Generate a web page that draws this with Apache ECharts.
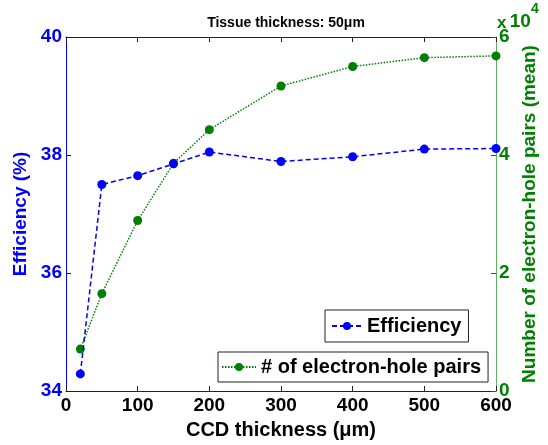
<!DOCTYPE html>
<html>
<head>
<meta charset="utf-8">
<script src="https://cdn.jsdelivr.net/npm/echarts@6/dist/echarts.min.js"></script>
<style>html,body{margin:0;padding:0;background:#fff;}#c{width:548px;height:445px;}</style>
</head>
<body>
<div id="c"></div>
<script>
var thickness = [20, 50, 100, 150, 200, 300, 400, 500, 600];
var efficiency = [34.29, 37.50, 37.65, 37.85, 38.05, 37.89, 37.97, 38.10, 38.11];
var pairs = [7100, 16500, 28900, 38600, 44300, 51700, 55000, 56500, 56800];
var xTicks = [0, 100, 200, 300, 400, 500, 600];
var leftTicks = [34, 36, 38, 40];
var rightTicks = [0, 2, 4, 6];

var FONT = '"Liberation Sans", Arial, sans-serif';
var BLUE = '#0000ff', GREEN = '#008000';

var chart = echarts.init(document.getElementById('c'), null, {renderer: 'canvas'});
chart.setOption({
  animation: false,
  backgroundColor: '#fff',
  title: {
    text: 'Tissue thickness: 50\u03bcm',
    left: 281, top: 11, textAlign: 'center',
    textStyle: {fontFamily: FONT, fontWeight: 'bold', fontSize: 14, color: '#000'}
  },
  grid: {left: 66, right: 52, top: 37, bottom: 49, show: false},
  legend: [
    {
      data: ['Efficiency'], left: 325, top: 310,
      padding: [6, 7, 6, 6], itemWidth: 30, itemHeight: 10, itemGap: 5,
      backgroundColor: '#fff', borderColor: '#222', borderWidth: 1,
      textStyle: {fontFamily: FONT, fontWeight: 'bold', fontSize: 20, color: '#000'}
    },
    {
      data: ['# of electron-hole pairs'], left: 218, top: 352,
      padding: [5, 7, 5, 3], itemWidth: 34, itemHeight: 10, itemGap: 5,
      backgroundColor: '#fff', borderColor: '#222', borderWidth: 1,
      textStyle: {fontFamily: FONT, fontWeight: 'bold', fontSize: 20, color: '#000'}
    }
  ],
  xAxis: [
    {
      type: 'value', min: 0, max: 600, interval: 100, position: 'bottom',
      name: 'CCD thickness (\u03bcm)', nameLocation: 'middle', nameGap: 29,
      nameTextStyle: {fontFamily: FONT, fontWeight: 'bold', fontSize: 20, color: '#000'},
      axisLine: {show: true, onZero: false, lineStyle: {color: '#222', width: 1}},
      axisTick: {show: true, inside: true, length: 5, lineStyle: {color: '#222'}},
      axisLabel: {fontFamily: FONT, fontWeight: 'bold', fontSize: 19, color: '#000', margin: 5,
        formatter: function (v) { return xTicks.indexOf(v) >= 0 ? String(v) : ''; }},
      splitLine: {show: false}
    },
    {
      type: 'value', min: 0, max: 600, interval: 100, position: 'top',
      axisLine: {show: true, onZero: false, lineStyle: {color: '#222', width: 1}},
      axisTick: {show: true, inside: true, length: 5, lineStyle: {color: '#222'}},
      axisLabel: {show: false}, splitLine: {show: false}
    }
  ],
  yAxis: [
    {
      type: 'value', min: 34, max: 40, interval: 2, position: 'left',
      name: 'Efficiency (%)', nameLocation: 'middle', nameGap: 30,
      nameTextStyle: {fontFamily: FONT, fontWeight: 'bold', fontSize: 19, color: BLUE},
      axisLine: {show: true, onZero: false, lineStyle: {color: BLUE, width: 1}},
      axisTick: {show: true, inside: true, length: 5, lineStyle: {color: BLUE}},
      axisLabel: {fontFamily: FONT, fontWeight: 'bold', fontSize: 19, color: BLUE, margin: 4,
        formatter: function (v) { return leftTicks.indexOf(v) >= 0 ? String(v) : ''; }},
      splitLine: {show: false}
    },
    {
      type: 'value', min: 0, max: 60000, interval: 20000, position: 'right',
      name: 'Number of electron-hole pairs (mean)', nameLocation: 'middle', nameGap: 20,
      nameTextStyle: {fontFamily: FONT, fontWeight: 'bold', fontSize: 19, color: GREEN},
      axisLine: {show: true, onZero: false, lineStyle: {color: '#5fb05f', width: 1}},
      axisTick: {show: true, inside: true, length: 5, lineStyle: {color: GREEN}},
      axisLabel: {fontFamily: FONT, fontWeight: 'bold', fontSize: 19, color: GREEN, margin: 3,
        formatter: function (v) { var t = v / 10000; return rightTicks.indexOf(t) >= 0 ? String(t) : ''; }},
      splitLine: {show: false}
    }
  ],
  graphic: [
    {
      type: 'text', left: 497, top: 2,
      style: {
        text: '{x|x} {b|10}{s|4}',
        rich: {
          x: {fontFamily: FONT, fontWeight: 'bold', fontSize: 17, fill: GREEN, padding: [16, 0, 0, 0]},
          b: {fontFamily: FONT, fontWeight: 'bold', fontSize: 19, fill: GREEN, padding: [14, 0, 0, 0]},
          s: {fontFamily: FONT, fontWeight: 'bold', fontSize: 14, fill: GREEN, padding: [0, 0, 12, 0]}
        }
      }
    }
  ],
  series: [
    {
      name: 'Efficiency', type: 'line', xAxisIndex: 0, yAxisIndex: 0,
      data: thickness.map(function (x, i) { return [x, efficiency[i]]; }),
      symbol: 'circle', symbolSize: 9, z: 3,
      itemStyle: {color: BLUE},
      lineStyle: {color: BLUE, width: 1.5, type: [5, 3]}
    },
    {
      name: '# of electron-hole pairs', type: 'line', xAxisIndex: 0, yAxisIndex: 1,
      data: thickness.map(function (x, i) { return [x, pairs[i]]; }),
      symbol: 'circle', symbolSize: 9, z: 2,
      itemStyle: {color: GREEN},
      lineStyle: {color: GREEN, width: 1.5, type: [1.5, 1.5]}
    }
  ]
});
</script>
</body>
</html>
